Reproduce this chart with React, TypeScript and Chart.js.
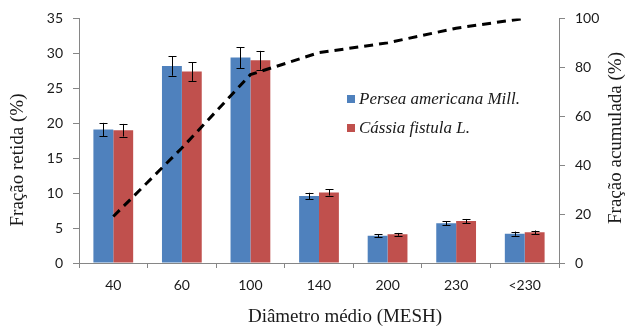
import { useEffect, useRef } from 'react';
import { Chart, registerables } from 'chart.js';

Chart.register(...registerables);

// Mesh classes (mean diameter)
const categories = ['40', '60', '100', '140', '200', '230', '<230'];

// Retained fraction (%) per species, with standard deviations
const perseaLabel = 'Persea americana Mill.';
const perseaValues = [19.1, 28.2, 29.4, 9.6, 3.9, 5.7, 4.2];
const perseaErrors = [0.95, 1.4, 1.5, 0.45, 0.25, 0.3, 0.3];

const cassiaLabel = 'Cássia fistula L.';
const cassiaValues = [19.0, 27.4, 29.0, 10.1, 4.1, 6.0, 4.4];
const cassiaErrors = [0.9, 1.35, 1.35, 0.45, 0.2, 0.3, 0.25];

// Cumulative fraction (%)
const cumulativeValues = [19, 47, 77, 86, 90, 96, 100];

const leftTicks = [0, 5, 10, 15, 20, 25, 30, 35];
const rightTicks = [0, 20, 40, 60, 80, 100];

const BLUE = '#4F81BD';
const RED = '#C0504D';
const AXIS = '#868686';
const TEXT = '#1a1a1a';
const TICK_FONT = 'Lato';
const SERIF = '"Liberation Serif", "Times New Roman", serif';

const errorBarPlugin = {
  id: 'errorBars',
  afterDatasetDraw(chart: any, args: any) {
    const ds = chart.data.datasets[args.index] as any;
    if (!ds.errors) return;
    const ctx = chart.ctx;
    const y = chart.scales.y;
    const meta = args.meta;
    ctx.save();
    ctx.strokeStyle = '#000';
    ctx.lineWidth = 1;
    meta.data.forEach((bar: any, i: number) => {
      const v = ds.data[i];
      const e = ds.errors[i];
      const x = Math.round(bar.x) + 0.5;
      const yTop = y.getPixelForValue(v + e);
      const yBot = y.getPixelForValue(v - e);
      ctx.beginPath();
      ctx.moveTo(x, yTop);
      ctx.lineTo(x, yBot);
      ctx.moveTo(x - 4, Math.round(yTop) + 0.5);
      ctx.lineTo(x + 4, Math.round(yTop) + 0.5);
      ctx.moveTo(x - 4, Math.round(yBot) + 0.5);
      ctx.lineTo(x + 4, Math.round(yBot) + 0.5);
      ctx.stroke();
    });
    ctx.restore();
  },
};

const annotationPlugin = {
  id: 'annotations',
  afterDraw(chart: any) {
    const ctx = chart.ctx;
    const area = chart.chartArea;
    ctx.save();
    ctx.fillStyle = TEXT;
    ctx.textAlign = 'center';
    ctx.textBaseline = 'middle';
    ctx.font = `19px ${SERIF}`;

    // x axis title
    ctx.fillText('Diâmetro médio (MESH)', 345, 317);

    // left axis title
    ctx.save();
    ctx.translate(18, 160);
    ctx.rotate(-Math.PI / 2);
    ctx.fillText('Fração retida (%)', 0, 0);
    ctx.restore();

    // right axis title
    ctx.save();
    ctx.translate(616, 138);
    ctx.rotate(-Math.PI / 2);
    ctx.fillText('Fração acumulada (%)', 0, 0);
    ctx.restore();

    // legend inside the plot area
    const items = [
      { label: perseaLabel, color: BLUE, y: 99 },
      { label: cassiaLabel, color: RED, y: 128 },
    ];
    ctx.textAlign = 'left';
    ctx.font = `italic 17px ${SERIF}`;
    items.forEach((it) => {
      ctx.fillStyle = it.color;
      ctx.fillRect(area.left + 268, it.y - 4, 8, 8);
      ctx.fillStyle = TEXT;
      ctx.fillText(it.label, area.left + 280, it.y + 1);
    });
    ctx.restore();
  },
};

export default function App() {
  const canvasRef = useRef<HTMLCanvasElement | null>(null);

  useEffect(() => {
    const canvas = canvasRef.current;
    if (!canvas) return;
    const chart = new Chart(canvas, {
      type: 'bar',
      data: {
        labels: categories,
        datasets: [
          {
            type: 'line',
            label: 'Acumulada',
            data: cumulativeValues,
            yAxisID: 'y1',
            borderColor: '#000',
            borderWidth: 3,
            borderDash: [9, 6],
            pointRadius: 0,
            tension: 0,
            fill: false,
            order: 0,
          } as any,
          {
            label: perseaLabel,
            data: perseaValues,
            errors: perseaErrors,
            backgroundColor: BLUE,
            yAxisID: 'y',
            order: 1,
          } as any,
          {
            label: cassiaLabel,
            data: cassiaValues,
            errors: cassiaErrors,
            backgroundColor: RED,
            yAxisID: 'y',
            order: 1,
          } as any,
        ],
      },
      options: {
        responsive: false,
        animation: false,
        layout: { padding: { top: 18, left: 0, right: 0, bottom: 0 } },
        datasets: {
          bar: { barPercentage: 1, categoryPercentage: 0.58 },
        },
        plugins: {
          legend: { display: false },
          tooltip: { enabled: false },
        },
        scales: {
          x: {
            grid: {
              display: true,
              offset: true,
              drawOnChartArea: false,
              drawTicks: true,
              tickLength: 5,
              color: AXIS,
            },
            border: { color: AXIS, width: 1 },
            ticks: {
              color: TEXT,
              font: { family: TICK_FONT, size: 14 },
              padding: 9,
              maxRotation: 0,
            },
            afterFit: (s: any) => {
              s.height = 67;
            },
          },
          y: {
            position: 'left',
            min: 0,
            max: 35,
            afterBuildTicks: (s: any) => {
              s.ticks = leftTicks.map((v) => ({ value: v }));
            },
            grid: {
              display: true,
              drawOnChartArea: false,
              drawTicks: true,
              tickLength: 6,
              color: AXIS,
            },
            border: { color: AXIS, width: 1 },
            ticks: {
              color: TEXT,
              font: { family: TICK_FONT, size: 14 },
              padding: 10,
            },
            afterFit: (s: any) => {
              s.width = 79;
            },
          },
          y1: {
            position: 'right',
            min: 0,
            max: 100,
            afterBuildTicks: (s: any) => {
              s.ticks = rightTicks.map((v) => ({ value: v }));
            },
            grid: {
              display: true,
              drawOnChartArea: false,
              drawTicks: true,
              tickLength: 6,
              color: AXIS,
            },
            border: { color: AXIS, width: 1 },
            ticks: {
              color: TEXT,
              font: { family: TICK_FONT, size: 14 },
              padding: 10,
            },
            afterFit: (s: any) => {
              s.width = 68;
            },
          },
        },
      },
      plugins: [errorBarPlugin, annotationPlugin],
    });
    return () => chart.destroy();
  }, []);

  return (
    <div style={{ position: 'fixed', left: 0, top: 0, width: 627, height: 330, background: '#fff' }}>
      <canvas ref={canvasRef} width={627} height={330} style={{ display: 'block' }} />
    </div>
  );
}
